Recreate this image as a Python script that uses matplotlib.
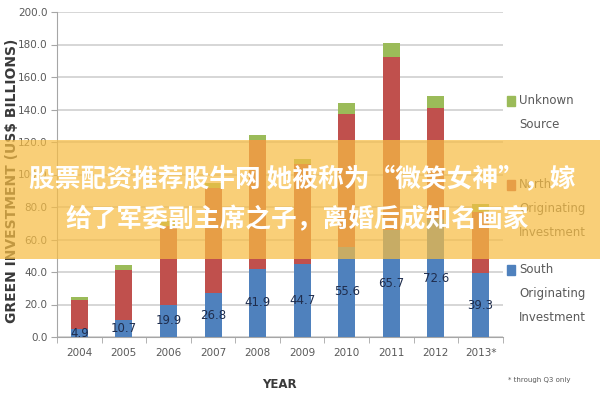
# 绿色投资堆叠柱状图（南北来源）+ 半透明横幅
import numpy as np
from matplotlib import pyplot as plt
from matplotlib.patches import Rectangle

# データ
years = ["2004", "2005", "2006", "2007", "2008", "2009", "2010", "2011", "2012", "2013*"]
south = [4.9, 10.7, 19.9, 26.8, 41.9, 44.7, 55.6, 65.7, 72.6, 39.3]
north = [17.9, 30.5, 48.5, 65.2, 79.1, 61.8, 81.6, 106.6, 68.4, 37.7]
unknown = [1.8, 3.1, 3.0, 3.0, 3.3, 3.0, 7.0, 8.7, 7.4, 5.0]
yticks = np.arange(0, 201, 20)

banner_line1 = "股票配资推荐股牛网 她被称为“微笑女神”，嫁"
banner_line2 = "给了军委副主席之子，离婚后成知名画家"

c_south = "#4f81bd"
c_north = "#c0504d"
c_unk = "#9bbb59"
gray = "#595959"

fig = plt.figure(figsize=(6, 4), dpi=100)
ax = fig.add_axes([0.095, 0.1575, 0.743, 0.8125])

x = np.arange(len(years))
south = np.array(south)
north = np.array(north)
unknown = np.array(unknown)
w = 0.38
ax.bar(x, south, w, color=c_south, zorder=3)
ax.bar(x, north, w, bottom=south, color=c_north, zorder=3)
ax.bar(x, unknown, w, bottom=south + north, color=c_unk, zorder=3)

for xi, v in zip(x, south):
    ax.text(xi, v / 2, "%.1f" % v, ha="center", va="center", fontsize=8.5,
            color="#1f2d4d", zorder=4)

ax.set_xlim(-0.5, len(years) - 0.5)
ax.set_ylim(0, 200)
ax.set_yticks(yticks)
ax.set_yticklabels(["%.1f" % t for t in yticks], fontsize=7.5, color=gray)
ax.set_xticks(x)
ax.set_xticklabels(years, fontsize=7.5, color=gray)
ax.set_xticks(np.arange(-0.5, len(years), 1.0), minor=True)
ax.tick_params(axis="x", which="major", length=0, pad=8)
ax.tick_params(axis="x", which="minor", length=4, color="#a6a6a6")
ax.tick_params(axis="y", length=4, color="#a6a6a6", pad=3)
ax.grid(axis="y", color="#d3d3d3", linewidth=1.3, zorder=0)
for s in ["top", "right"]:
    ax.spines[s].set_visible(False)
ax.spines["left"].set_color("#a6a6a6")
ax.spines["bottom"].set_color("#a6a6a6")

ax.set_ylabel("GREEN INVESTMENT (US$ BILLIONS)", fontsize=10, fontweight="bold",
              color="#3a3a3a")
ax.yaxis.set_label_coords(-0.085, 0.48)
ax.set_xlabel("YEAR", fontsize=8.5, fontweight="bold", color="#3a3a3a")
ax.xaxis.set_label_coords(0.5, -0.125)

# 凡例（手書き）
leg = [(c_unk, "Unknown\nSource", 0.748),
       (c_north, "North\nOriginating\nInvestment", 0.538),
       (c_south, "South\nOriginating\nInvestment", 0.325)]
for col, lab, yy in leg:
    fig.patches.append(Rectangle((0.845, yy - 0.012), 0.014, 0.024, color=col,
                                 transform=fig.transFigure, zorder=2))
    fig.text(0.865, yy + 0.018, lab, fontsize=8.5, color=gray, va="top",
             linespacing=2.1, zorder=2)
fig.text(0.847, 0.045, "* through Q3 only", fontsize=5, color=gray)

# 横幅
fig.patches.append(Rectangle((0, 0.3525), 1, 0.2975, facecolor="#f7bd44", alpha=0.72,
                             edgecolor="none", transform=fig.transFigure, zorder=10))
fig.text(0.503, 0.55, banner_line1, ha="center", va="center", fontsize=18.5,
         fontweight="bold", color="white", family=["Noto Sans CJK SC", "DejaVu Sans"],
         zorder=11)
fig.text(0.495, 0.45, banner_line2, ha="center", va="center", fontsize=18.5,
         fontweight="bold", color="white", family=["Noto Sans CJK SC", "DejaVu Sans"],
         zorder=11)

fig.savefig("out.png", dpi=100)
